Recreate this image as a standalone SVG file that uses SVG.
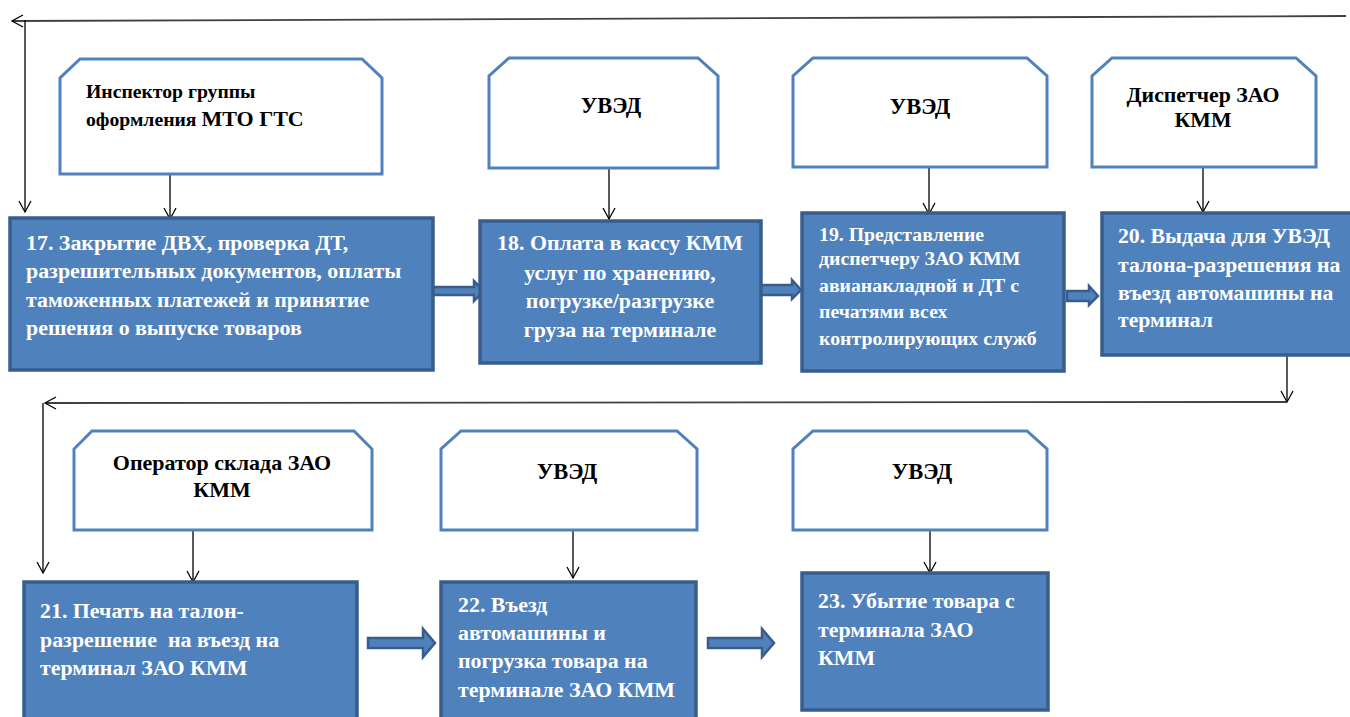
<svg xmlns="http://www.w3.org/2000/svg" width="1350" height="717" viewBox="0 0 1350 717">
<defs>
<marker id="open" markerWidth="14" markerHeight="14" refX="12" refY="7" orient="auto" markerUnits="userSpaceOnUse">
<path d="M1,1 L12,7 L1,13" fill="none" stroke="#000" stroke-width="1.3"/>
</marker>
<style>
.role{fill:#fff;stroke:#4f81bd;stroke-width:3}
.step{fill:#4f81bd;stroke:#385d8a;stroke-width:3.5}
.blk{fill:#4f81bd;stroke:#385d8a;stroke-width:2.5}
.ln{fill:none;stroke:#000;stroke-width:1.3}
.lng{fill:none;stroke:#404040;stroke-width:1.8}
.rt{font-weight:bold;fill:#000}
.st{font-weight:bold;fill:#fff}
</style>
</defs>
<rect width="1350" height="717" fill="#fff"/>

<g id="connectors">
<path class="lng" d="M1346,16 L12,21" marker-end="url(#open)"/>
<path class="ln" d="M25,20 L25,212" marker-end="url(#open)"/>
<path class="ln" d="M170,174 L170,219" marker-end="url(#open)"/>
<path class="ln" d="M609,168 L609,219" marker-end="url(#open)"/>
<path class="ln" d="M929,167 L929,214" marker-end="url(#open)"/>
<path class="ln" d="M1203,167 L1203,212" marker-end="url(#open)"/>
<path class="ln" d="M1287,355 L1287,402" marker-end="url(#open)"/>
<path class="lng" d="M1287,402 L45,403" marker-end="url(#open)"/>
<path class="ln" d="M43,403 L43,573" marker-end="url(#open)"/>
<path class="ln" d="M193,530 L193,582" marker-end="url(#open)"/>
<path class="ln" d="M573,530 L573,578" marker-end="url(#open)"/>
<path class="ln" d="M930,530 L930,573" marker-end="url(#open)"/>
<path class="blk" d="M433,287 L474,287 L474,281 L484,291 L474,301 L474,295 L433,295 Z"/>
<path class="blk" d="M761,285 L792,285 L792,280 L801,290 L792,299 L792,295 L761,295 Z"/>
<path class="blk" d="M1067,291 L1089,291 L1089,286 L1098,296 L1089,305 L1089,301 L1067,301 Z"/>
<path class="blk" d="M368,638 L423,638 L423,629 L435,643 L423,657 L423,648 L368,648 Z"/>
<path class="blk" d="M708,638 L762,638 L762,629 L774,643 L762,657 L762,648 L708,648 Z"/>
</g>

<g font-family="'Liberation Serif', 'Times New Roman', 'DejaVu Serif', serif">
<g id="r1">
<path class="role" d="M80,59 L362,59 L382,78 L382,174 L60,174 L60,78 Z"/>
<text class="rt" x="86" y="98" font-size="19.7">Инспектор группы</text>
<text class="rt" x="86" y="126" font-size="19.7">оформления <tspan font-size="22">МТО ГТС</tspan></text>
</g>
<g id="r2">
<path class="role" d="M509,58 L698,58 L718,76 L718,168 L489,168 L489,76 Z"/>
<text class="rt" x="611" y="113" font-size="22.5" text-anchor="middle">УВЭД</text>
</g>
<g id="r3">
<path class="role" d="M813,58 L1027,58 L1047,76 L1047,167 L793,167 L793,76 Z"/>
<text class="rt" x="920" y="114" font-size="22.5" text-anchor="middle">УВЭД</text>
</g>
<g id="r4">
<path class="role" d="M1112,58 L1296,58 L1316,76 L1316,167 L1092,167 L1092,76 Z"/>
<text class="rt" x="1203" y="102" font-size="21.8" text-anchor="middle">Диспетчер ЗАО</text>
<text class="rt" x="1203" y="127" font-size="21.8" text-anchor="middle">КММ</text>
</g>

<g id="s17">
<rect class="step" x="10" y="218" width="423" height="152"/>
<text class="st" font-size="21.9"><tspan x="26" y="250">17. Закрытие ДВХ, проверка ДТ,</tspan><tspan x="26" y="278">разрешительных документов, оплаты</tspan><tspan x="26" y="307">таможенных платежей и принятие</tspan><tspan x="26" y="335">решения о выпуске товаров</tspan></text>
</g>
<g id="s18">
<rect class="step" x="480" y="221" width="281" height="142"/>
<text class="st" font-size="21.9" text-anchor="middle"><tspan x="620" y="250">18. Оплата в кассу КММ</tspan><tspan x="620" y="280">услуг по хранению,</tspan><tspan x="620" y="308">погрузке/разгрузке</tspan><tspan x="620" y="337">груза на терминале</tspan></text>
</g>
<g id="s19">
<rect class="step" x="802" y="213" width="262" height="158"/>
<text class="st" font-size="19.8"><tspan x="819" y="241">19. Представление</tspan><tspan x="819" y="265">диспетчеру ЗАО КММ</tspan><tspan x="819" y="292">авианакладной и ДТ с</tspan><tspan x="819" y="318">печатями всех</tspan><tspan x="819" y="345">контролирующих служб</tspan></text>
</g>
<g id="s20">
<rect class="step" x="1102" y="213" width="256" height="142"/>
<text class="st" font-size="21.7"><tspan x="1118" y="243">20. Выдача для УВЭД</tspan><tspan x="1118" y="272">талона-разрешения на</tspan><tspan x="1118" y="300">въезд автомашины на</tspan><tspan x="1118" y="327">терминал</tspan></text>
</g>

<g id="r5">
<path class="role" d="M92,431 L354,431 L372,449 L372,530 L74,530 L74,449 Z"/>
<text class="rt" x="222" y="470" font-size="22" text-anchor="middle">Оператор склада ЗАО</text>
<text class="rt" x="222" y="497" font-size="22" text-anchor="middle">КММ</text>
</g>
<g id="r6">
<path class="role" d="M461,431 L677,431 L697,449 L697,530 L441,530 L441,449 Z"/>
<text class="rt" x="567" y="479" font-size="22.5" text-anchor="middle">УВЭД</text>
</g>
<g id="r7">
<path class="role" d="M813,431 L1027,431 L1047,449 L1047,530 L793,530 L793,449 Z"/>
<text class="rt" x="922" y="479" font-size="22.5" text-anchor="middle">УВЭД</text>
</g>

<g id="s21">
<rect class="step" x="24" y="582" width="333" height="150"/>
<text class="st" font-size="21.9"><tspan x="40" y="618">21. Печать на талон-</tspan><tspan x="40" y="647" xml:space="preserve">разрешение  на въезд на</tspan><tspan x="40" y="675">терминал ЗАО КММ</tspan></text>
</g>
<g id="s22">
<rect class="step" x="441" y="582" width="255" height="150"/>
<text class="st" font-size="21.9"><tspan x="458" y="612">22. Въезд</tspan><tspan x="458" y="640">автомашины и</tspan><tspan x="458" y="668">погрузка товара на</tspan><tspan x="458" y="697">терминале ЗАО КММ</tspan></text>
</g>
<g id="s23">
<rect class="step" x="802" y="573" width="246" height="137"/>
<text class="st" font-size="21.9"><tspan x="818" y="608">23. Убытие товара с</tspan><tspan x="818" y="637">терминала ЗАО</tspan><tspan x="818" y="665">КММ</tspan></text>
</g>
</g>
</svg>
